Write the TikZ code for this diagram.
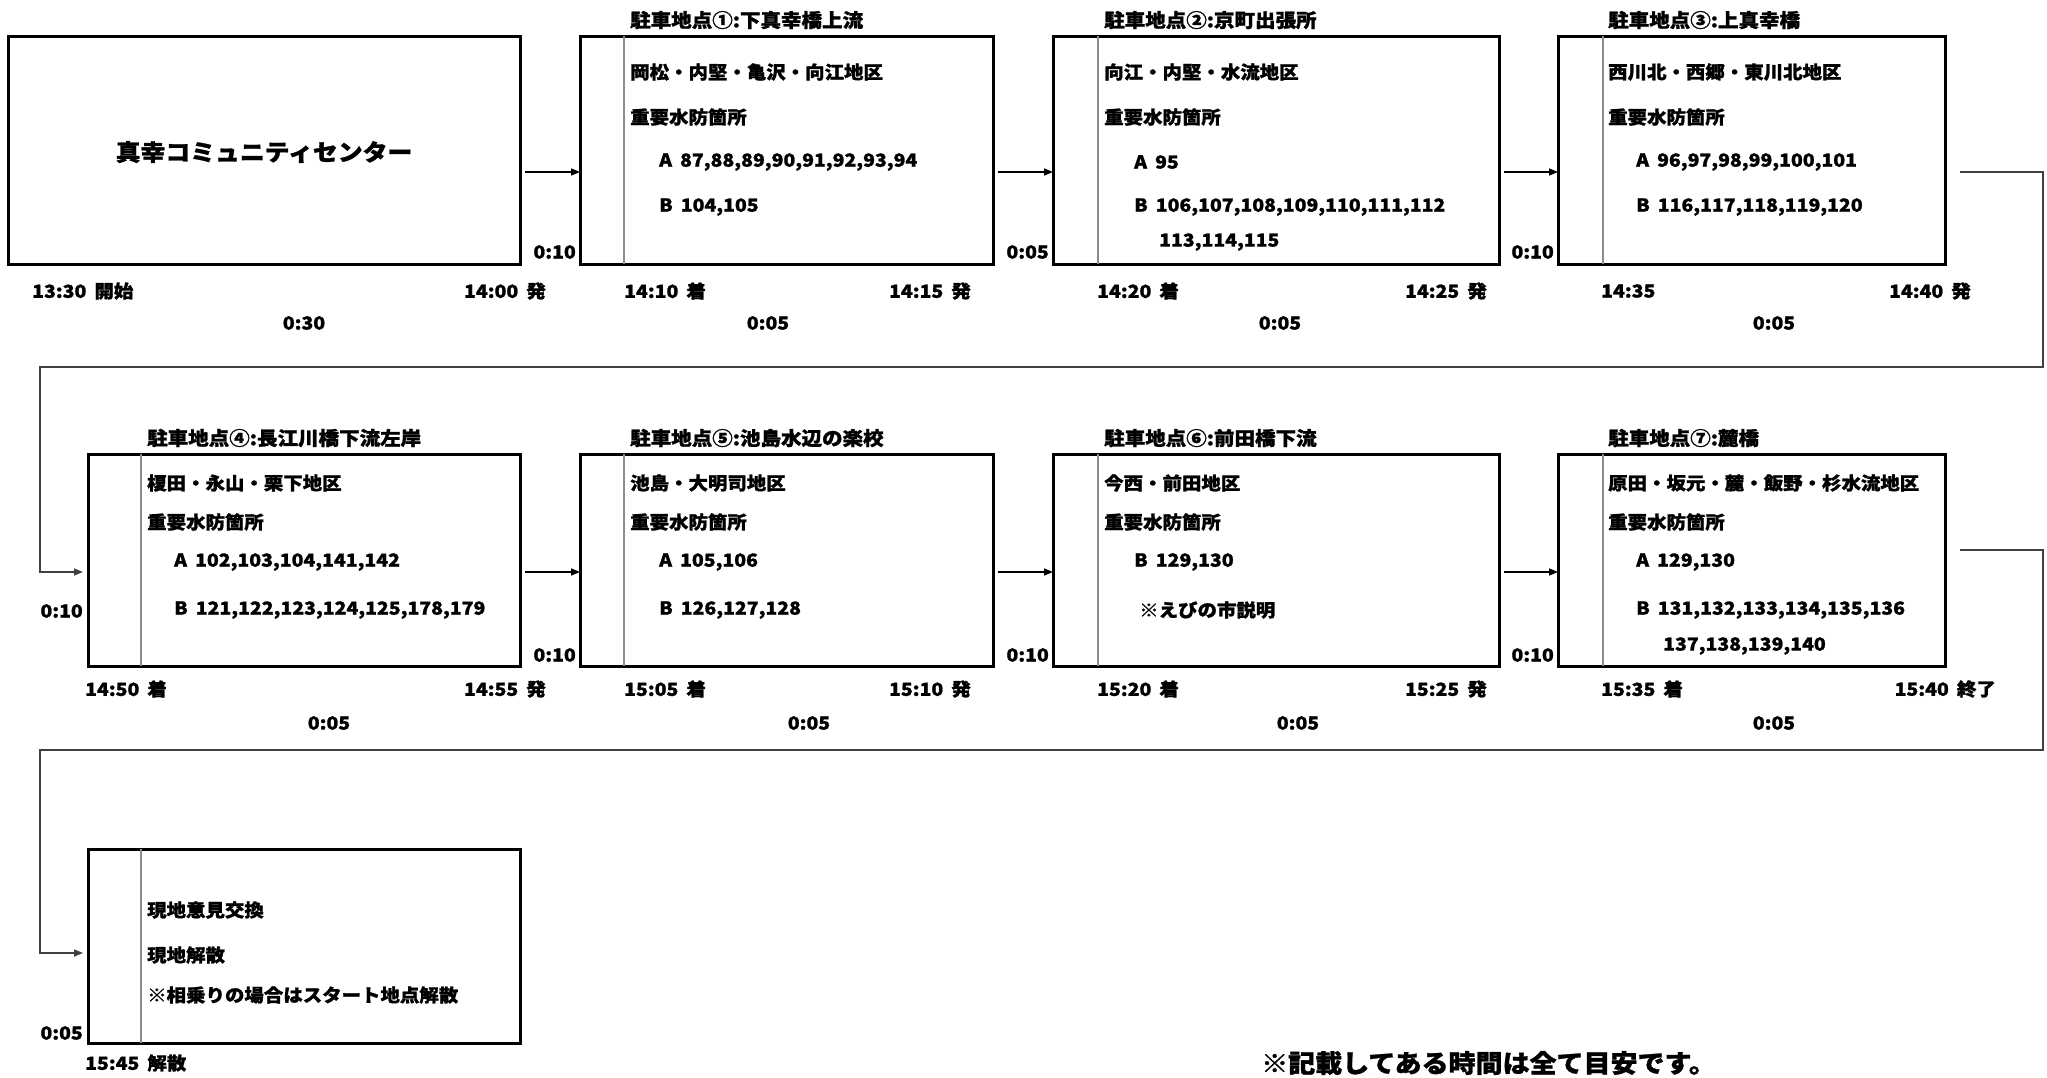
\documentclass[tikz,border=0pt]{standalone}
\usepackage{fontspec}
\setmainfont{Noto Sans CJK JP}[FakeStretch=1.08, BoldFeatures={FakeBold=1.2}]
\usetikzlibrary{arrows.meta}
\newcommand\gap{\hspace{0.45em}}
\begin{document}
\begin{tikzpicture}[x=1pt,y=-1pt,
  box/.style={draw=black, line width=3pt, rectangle, inner sep=0, outer sep=0},
  gline/.style={draw=black!45, line width=1.5pt},
  arr/.style={draw=black, line width=1.5pt, -{Triangle[length=9pt,width=7pt]}},
  conn/.style={draw=black!75, line width=1.5pt, -{Triangle[length=9pt,width=7pt]}},
  tx/.style={inner sep=0, anchor=west, font=\bfseries\fontsize{18}{18}\selectfont},
  ttl/.style={inner sep=0, anchor=west, font=\bfseries\fontsize{19}{19}\selectfont},
  tr/.style={inner sep=0, anchor=east, font=\bfseries\fontsize{18}{18}\selectfont},
  tc/.style={inner sep=0, anchor=center, font=\bfseries\fontsize{18}{18}\selectfont}]
\useasboundingbox (0,0) rectangle (2047,1077);
\fill[white] (0,0) rectangle (2047,1077);
% boxes: name, x1, y1, x2, y2
\newcommand\stopbox[5]{\node[box, minimum width={#4-#2}, minimum height={#5-#3}] (#1) at ({(#2+#4)/2},{(#3+#5)/2}) {};}
\stopbox{b0}{8}{36}{520}{264}
\stopbox{b1}{580}{36}{993}{264}
\stopbox{b2}{1053}{36}{1499}{264}
\stopbox{b3}{1558}{36}{1945}{264}
\stopbox{b4}{88}{454}{520}{666}
\stopbox{b5}{580}{454}{993}{666}
\stopbox{b6}{1053}{454}{1499}{666}
\stopbox{b7}{1558}{454}{1945}{666}
\stopbox{b8}{88}{849}{520}{1043}
% gray inner lines
\foreach \b/\d in {b1/44,b2/45,b3/45,b5/44,b6/45,b7/45,b4/53,b8/53}
  \draw[gline] ([xshift=\d pt]\b.north west) -- ([xshift=\d pt]\b.south west);
% row reference coordinates
\coordinate (r1) at (0,172);
\coordinate (r2) at (0,572);
\coordinate (r3) at (0,953);
\coordinate (c1) at (2043,172);
\coordinate (c2) at (2043,367);
\coordinate (c3) at (40,367);
\coordinate (c4) at (40,572);
\coordinate (d1) at (2043,550);
\coordinate (d2) at (2043,750);
\coordinate (d3) at (40,750);
\coordinate (d4) at (40,953);
\coordinate (e1) at (0,550);
% arrows
\draw[arr, shorten <=5pt] (b0.east |- r1) -- (b1.west |- r1);
\draw[arr, shorten <=5pt] (b1.east |- r1) -- (b2.west |- r1);
\draw[arr, shorten <=5pt] (b2.east |- r1) -- (b3.west |- r1);
\draw[arr, shorten <=5pt] (b4.east |- r2) -- (b5.west |- r2);
\draw[arr, shorten <=5pt] (b5.east |- r2) -- (b6.west |- r2);
\draw[arr, shorten <=5pt] (b6.east |- r2) -- (b7.west |- r2);
\draw[conn, shorten <=15pt, shorten >=5pt] (b3.east |- r1) -- (c1) -- (c2) -- (c3) -- (c4) -- (b4.west |- r2);
\draw[conn, shorten <=15pt, shorten >=5pt] (b7.east |- e1) -- (d1) -- (d2) -- (d3) -- (d4) -- (b8.west |- r3);
% start box
\node[tc, font=\bfseries\fontsize{23}{23}\selectfont] (t0) at (264,152) {真幸コミュニティセンター};
% stop 1
\node[ttl] (h1) at (630,20) {駐車地点①:下真幸橋上流};
\node[tx] (l11) at (630,72) {岡松・内堅・亀沢・向江地区};
\node[tx] (l12) at (630,117) {重要水防箇所};
\node[tx] (l13) at (659,162) {A\gap 87,88,89,90,91,92,93,94};
\node[tx] (l14) at (659,207) {B\gap 104,105};
% stop 2
\node[ttl] (h2) at (1104,20) {駐車地点②:京町出張所};
\node[tx] (l21) at (1104,72) {向江・内堅・水流地区};
\node[tx] (l22) at (1104,117) {重要水防箇所};
\node[tx] (l23) at (1134,162) {A\gap 95};
\node[tx] (l24) at (1134,207) {B\gap 106,107,108,109,110,111,112};
\node[tx] (l25) at (1159,242) {113,114,115};
% stop 3
\node[ttl] (h3) at (1608,20) {駐車地点③:上真幸橋};
\node[tx] (l31) at (1608,72) {西川北・西郷・東川北地区};
\node[tx] (l32) at (1608,117) {重要水防箇所};
\node[tx] (l33) at (1636,162) {A\gap 96,97,98,99,100,101};
\node[tx] (l34) at (1636,207) {B\gap 116,117,118,119,120};
% stop 4
\node[ttl] (h4) at (147,438) {駐車地点④:長江川橋下流左岸};
\node[tx] (l41) at (147,483) {榎田・永山・栗下地区};
\node[tx] (l42) at (147,522) {重要水防箇所};
\node[tx] (l43) at (174,562) {A\gap 102,103,104,141,142};
\node[tx] (l44) at (174,610) {B\gap 121,122,123,124,125,178,179};
% stop 5
\node[ttl] (h5) at (630,438) {駐車地点⑤:池島水辺の楽校};
\node[tx] (l51) at (630,483) {池島・大明司地区};
\node[tx] (l52) at (630,522) {重要水防箇所};
\node[tx] (l53) at (659,562) {A\gap 105,106};
\node[tx] (l54) at (659,610) {B\gap 126,127,128};
% stop 6
\node[ttl] (h6) at (1104,438) {駐車地点⑥:前田橋下流};
\node[tx] (l61) at (1104,483) {今西・前田地区};
\node[tx] (l62) at (1104,522) {重要水防箇所};
\node[tx] (l63) at (1134,562) {B\gap 129,130};
\node[tx] (l64) at (1139,610) {※えびの市説明};
% stop 7
\node[ttl] (h7) at (1608,438) {駐車地点⑦:麓橋};
\node[tx] (l71) at (1608,483) {原田・坂元・麓・飯野・杉水流地区};
\node[tx] (l72) at (1608,522) {重要水防箇所};
\node[tx] (l73) at (1636,562) {A\gap 129,130};
\node[tx] (l74) at (1636,610) {B\gap 131,132,133,134,135,136};
\node[tx] (l75) at (1663,646) {137,138,139,140};
% end box
\node[tx] (l81) at (147,910) {現地意見交換};
\node[tx] (l82) at (147,955) {現地解散};
\node[tx] (l83) at (147,995) {※相乗りの場合はスタート地点解散};
% travel times
\node[tr] (m1) at (576,252) {0:10};
\node[tr] (m2) at (1049,252) {0:05};
\node[tr] (m3) at (1554,252) {0:10};
\node[tr] (m4) at (83,611) {0:10};
\node[tr] (m5) at (576,655) {0:10};
\node[tr] (m6) at (1049,655) {0:10};
\node[tr] (m7) at (1554,655) {0:10};
\node[tr] (m8) at (83,1033) {0:05};
% times row 1
\node[tx] (s0) at (32,291) {13:30\gap 開始};
\node[tr] (e0) at (546,291) {14:00\gap 発};
\node[tc] (d0) at (304,323) {0:30};
\node[tx] (s1) at (624,291) {14:10\gap 着};
\node[tr] (e1t) at (971,291) {14:15\gap 発};
\node[tc] (dd1) at (768,323) {0:05};
\node[tx] (s2) at (1097,291) {14:20\gap 着};
\node[tr] (e2) at (1487,291) {14:25\gap 発};
\node[tc] (dd2) at (1280,323) {0:05};
\node[tx] (s3) at (1601,291) {14:35};
\node[tr] (e3) at (1971,291) {14:40\gap 発};
\node[tc] (dd3) at (1774,323) {0:05};
% times row 2
\node[tx] (s4) at (85,689) {14:50\gap 着};
\node[tr] (e4) at (546,689) {14:55\gap 発};
\node[tc] (dd4) at (329,723) {0:05};
\node[tx] (s5) at (624,689) {15:05\gap 着};
\node[tr] (e5) at (971,689) {15:10\gap 発};
\node[tc] (dd5) at (809,723) {0:05};
\node[tx] (s6) at (1097,689) {15:20\gap 着};
\node[tr] (e6) at (1487,689) {15:25\gap 発};
\node[tc] (dd6) at (1298,723) {0:05};
\node[tx] (s7) at (1601,689) {15:35\gap 着};
\node[tr] (e7) at (1996,689) {15:40\gap 終了};
\node[tc] (dd7) at (1774,723) {0:05};
% row 3
\node[tx] (s8) at (85,1063) {15:45\gap 解散};
\node[tx, font=\bfseries\fontsize{25}{25}\selectfont] (note) at (1261,1063) {※記載してある時間は全て目安です。};
\end{tikzpicture}
\end{document}
